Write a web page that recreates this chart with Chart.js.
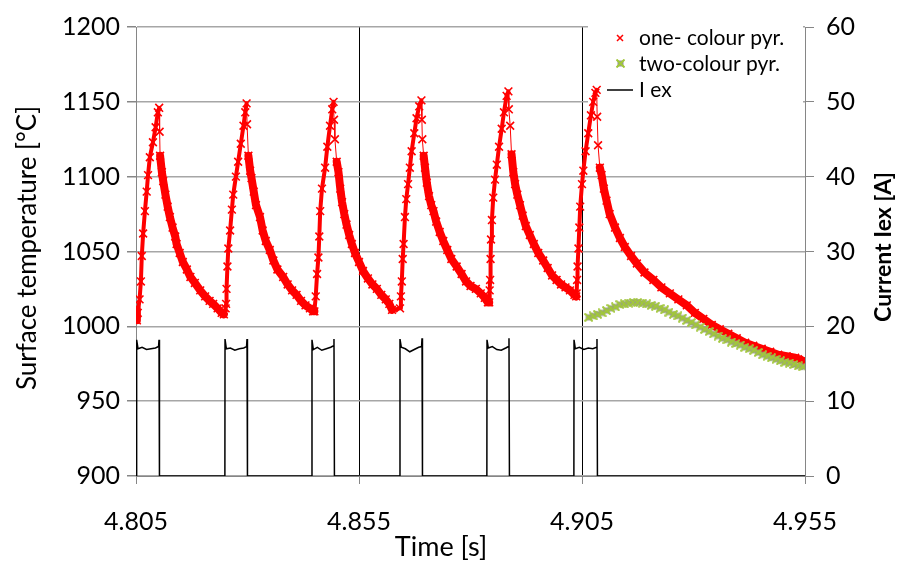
<!DOCTYPE html>
<html>
<head>
<meta charset="utf-8">
<script src="https://cdn.jsdelivr.net/npm/chart.js@4.4.0/dist/chart.umd.min.js"></script>
<style>
  body { margin: 0; background: #fff; }
  #chart { display: block; }
</style>
</head>
<body>
<canvas id="chart" width="903" height="567"></canvas>
<script>
const timeTicks = [4.805, 4.855, 4.905, 4.955];
const tempTicks = [900, 950, 1000, 1050, 1100, 1150, 1200];
const currentTicks = [0, 10, 20, 30, 40, 50, 60];

// one-colour pyrometer
const oneColourTime = [
    4.8050, 4.8052, 4.8054, 4.8058, 4.8061, 4.8063, 4.8066, 4.8070, 4.8074, 4.8077, 4.8081, 4.8088, 4.8094, 4.8099, 4.8102, 4.8103,
    4.8104, 4.8108, 4.8111, 4.8116, 4.8121, 4.8126, 4.8132, 4.8138, 4.8141, 4.8148, 4.8155, 4.8164, 4.8172, 4.8182, 4.8194, 4.8205, 4.8215, 4.8223, 4.8233, 4.8242, 4.8247,
    4.8251, 4.8252, 4.8253, 4.8255, 4.8257, 4.8261, 4.8265, 4.8268, 4.8274, 4.8279, 4.8285, 4.8291, 4.8295, 4.8298, 4.8299,
    4.8302, 4.8306, 4.8309, 4.8314, 4.8319, 4.8328, 4.8334, 4.8341, 4.8350, 4.8358, 4.8367, 4.8380, 4.8390, 4.8400, 4.8410, 4.8420, 4.8430, 4.8440, 4.8447,
    4.8450, 4.8453, 4.8456, 4.8459, 4.8461, 4.8463, 4.8467, 4.8474, 4.8479, 4.8485, 4.8490, 4.8493, 4.8494,
    4.8496, 4.8500, 4.8504, 4.8508, 4.8512, 4.8517, 4.8522, 4.8528, 4.8534, 4.8541, 4.8550, 4.8559, 4.8570, 4.8580, 4.8590, 4.8600, 4.8610, 4.8618, 4.8624,
    4.8642, 4.8644, 4.8646, 4.8648, 4.8650, 4.8653, 4.8656, 4.8660, 4.8664, 4.8668, 4.8674, 4.8679, 4.8685, 4.8690, 4.8691,
    4.8692, 4.8695, 4.8698, 4.8702, 4.8707, 4.8712, 4.8717, 4.8723, 4.8731, 4.8739, 4.8748, 4.8757, 4.8769, 4.8780, 4.8790, 4.8800, 4.8812, 4.8823, 4.8832, 4.8839,
    4.8842, 4.8843, 4.8844, 4.8845, 4.8846, 4.8848, 4.8851, 4.8855, 4.8859, 4.8864, 4.8870, 4.8875, 4.8881, 4.8885, 4.8886,
    4.8889, 4.8892, 4.8896, 4.8900, 4.8905, 4.8911, 4.8917, 4.8924, 4.8933, 4.8942, 4.8952, 4.8963, 4.8973, 4.8983, 4.8993, 4.9003, 4.9013, 4.9023, 4.9033, 4.9037,
    4.9038, 4.9039, 4.9040, 4.9042, 4.9044, 4.9046, 4.9050, 4.9053, 4.9058, 4.9064, 4.9070, 4.9075, 4.9080, 4.9083, 4.9084,
    4.9086, 4.9090, 4.9094, 4.9099, 4.9105, 4.9112, 4.9124, 4.9135, 4.9146, 4.9160, 4.9173, 4.9190, 4.9210, 4.9228, 4.9247, 4.9266,
    4.9285, 4.9303, 4.9322, 4.9341, 4.9359, 4.9378, 4.9397, 4.9416, 4.9434, 4.9453, 4.9472, 4.9490, 4.9509, 4.9528, 4.9545, 4.9549
];
const oneColourTemp = [
    1011, 1004, 1009, 1018, 1030, 1047, 1062, 1077, 1090, 1101, 1113, 1123, 1133, 1143, 1146, 1130,
    1114, 1103, 1097, 1088, 1080, 1073, 1066, 1060, 1055, 1049, 1043, 1038, 1033, 1029, 1024, 1020, 1017, 1015, 1012, 1009, 1008,
    1012, 1015, 1025, 1040, 1052, 1064, 1078, 1088, 1100, 1110, 1122, 1134, 1143, 1149, 1135,
    1114, 1104, 1099, 1090, 1081, 1073, 1064, 1057, 1051, 1044, 1038, 1033, 1028, 1024, 1021, 1017, 1014, 1012, 1010,
    1010, 1020, 1035, 1046, 1060, 1077, 1092, 1106, 1120, 1134, 1145, 1150, 1138,
    1125, 1110, 1103, 1092, 1083, 1075, 1068, 1061, 1055, 1049, 1043, 1037, 1032, 1028, 1025, 1021, 1018, 1015, 1011,
    1012, 1020, 1030, 1045, 1055, 1073, 1085, 1095, 1106, 1117, 1129, 1139, 1147, 1151, 1138,
    1125, 1114, 1106, 1096, 1087, 1081, 1077, 1070, 1063, 1057, 1051, 1045, 1040, 1035, 1030, 1027, 1025, 1022, 1019, 1016,
    1016, 1024, 1031, 1045, 1058, 1071, 1086, 1098, 1108, 1120, 1132, 1143, 1154, 1157, 1145,
    1134, 1115, 1103, 1095, 1088, 1081, 1074, 1067, 1061, 1055, 1049, 1044, 1039, 1034, 1031, 1028, 1026, 1024, 1021, 1020,
    1022, 1031, 1040, 1052, 1066, 1080, 1095, 1104, 1117, 1129, 1141, 1150, 1156, 1158, 1140,
    1121, 1106, 1101, 1092, 1084, 1075, 1066, 1059, 1053, 1047, 1042, 1036, 1031, 1026, 1022, 1018,
    1014, 1009, 1005, 1001, 998, 995, 992, 989, 987, 985, 983, 981, 980, 979, 977, 978
];

// two-colour pyrometer, only valid after the last pulse
const twoColourTime = [
    4.9065, 4.9075, 4.9085, 4.9095, 4.9105, 4.9115, 4.9125, 4.9135, 4.9145, 4.9155, 4.9165, 4.9175, 4.9185, 4.9195, 4.9205, 4.9215, 4.9225,
    4.9235, 4.9245, 4.9255, 4.9265, 4.9275, 4.9285, 4.9295, 4.9305, 4.9315, 4.9325, 4.9335, 4.9345, 4.9355, 4.9365, 4.9375, 4.9385,
    4.9395, 4.9405, 4.9415, 4.9425, 4.9435, 4.9445, 4.9455, 4.9465, 4.9475, 4.9485, 4.9495, 4.9505, 4.9515, 4.9525, 4.9535, 4.9545
];
const twoColourTemp = [
    1006, 1007, 1008, 1009, 1010.5, 1012, 1013, 1014.5, 1015, 1015.5, 1016, 1016, 1015.5, 1015, 1014, 1013.5, 1012,
    1011, 1009.5, 1008, 1007, 1005.5, 1004, 1002.5, 1001, 999.5, 998, 996.5, 995, 993.5, 992, 991, 989.5,
    988.5, 987.5, 986, 985, 984, 982.5, 981, 980, 979, 978, 977, 976, 975.5, 974.5, 973.5, 973
];

// excitation current I ex [A]
const currentTime = [
    4.80500,
    4.80513, 4.80516, 4.80546, 4.80636, 4.80736, 4.80836, 4.80936, 4.81006, 4.81016, 4.81026,
    4.82493, 4.82496, 4.82526, 4.82616, 4.82716, 4.82816, 4.82916, 4.82979, 4.82989, 4.82999,
    4.84443, 4.84446, 4.84476, 4.84566, 4.84666, 4.84766, 4.84866, 4.84929, 4.84939, 4.84949,
    4.86416, 4.86419, 4.86449, 4.86539, 4.86639, 4.86739, 4.86839, 4.86903, 4.86913, 4.86923,
    4.88367, 4.88370, 4.88400, 4.88490, 4.88590, 4.88690, 4.88790, 4.88853, 4.88863, 4.88873,
    4.90318, 4.90321, 4.90351, 4.90441, 4.90541, 4.90641, 4.90741, 4.90826, 4.90836, 4.90846,
    4.95500
];
const currentValue = [
    0,
    0, 18.2, 17.0, 17.2, 16.9, 17.0, 17.1, 17.3, 18.2, 0,
    0, 18.3, 17.0, 17.1, 16.8, 17.0, 17.1, 17.3, 18.3, 0,
    0, 18.2, 16.9, 17.2, 16.8, 17.0, 17.2, 17.4, 18.3, 0,
    0, 18.3, 17.2, 17.0, 16.6, 16.9, 17.2, 17.3, 18.4, 0,
    0, 18.2, 17.1, 17.3, 16.9, 16.8, 17.1, 17.3, 18.4, 0,
    0, 18.2, 17.0, 17.2, 16.9, 17.1, 17.0, 17.2, 18.3, 0,
    0
];

const FONT = 'Lato';
const axisGrey = '#868686';
const gridGrey = '#a6a6a6';
const red = '#ff0000';
const green = '#a2c83a';

// grey square with a green cross, like the Excel marker
const twoColourMarker = document.createElement('canvas');
twoColourMarker.width = 9;
twoColourMarker.height = 9;
(function () {
    const c = twoColourMarker.getContext('2d');
    c.fillStyle = '#959595';
    c.fillRect(1.5, 1.5, 6, 6);
    c.strokeStyle = green;
    c.lineWidth = 2;
    c.beginPath();
    c.moveTo(0.5, 0.5); c.lineTo(8.5, 8.5);
    c.moveTo(8.5, 0.5); c.lineTo(0.5, 8.5);
    c.stroke();
})();

const toPoints = (xs, ys) => xs.map((x, i) => ({x: x, y: ys[i]}));

// legend box and axis titles drawn in Excel's places
const overlay = {
    id: 'overlay',
    beforeDatasetsDraw(chart) {
        const ctx = chart.ctx;
        ctx.save();
        ctx.fillStyle = '#fff';
        ctx.fillRect(588, 21, 215, 83);
        ctx.restore();
    },
    afterDraw(chart) {
        const ctx = chart.ctx;
        ctx.save();
        ctx.fillStyle = '#000';
        ctx.textBaseline = 'middle';
        ctx.textAlign = 'left';
        ctx.font = '21px ' + FONT;

        ctx.strokeStyle = red;
        ctx.lineWidth = 1.5;
        ctx.beginPath();
        ctx.moveTo(617, 35); ctx.lineTo(623, 41);
        ctx.moveTo(623, 35); ctx.lineTo(617, 41);
        ctx.stroke();
        ctx.fillText('one- colour pyr.', 639, 38);

        ctx.drawImage(twoColourMarker, 616, 59);
        ctx.fillText('two-colour pyr.', 639, 64);

        ctx.strokeStyle = '#000';
        ctx.lineWidth = 1.5;
        ctx.beginPath();
        ctx.moveTo(607, 90); ctx.lineTo(633, 90);
        ctx.stroke();
        ctx.fillText('I ex', 639, 90);

        ctx.textAlign = 'center';
        ctx.font = '27px ' + FONT;
        ctx.fillText('Time [s]', 441, 547);

        ctx.save();
        ctx.translate(28, 248);
        ctx.rotate(-Math.PI / 2);
        ctx.font = '26px ' + FONT;
        ctx.fillText('Surface temperature [°C]', 0, 0);
        ctx.restore();

        ctx.save();
        ctx.translate(884, 247);
        ctx.rotate(-Math.PI / 2);
        ctx.font = 'bold 23px ' + FONT;
        ctx.fillText('Current Iex [A]', 0, 0);
        ctx.restore();
        ctx.restore();
    }
};

const ctx = document.getElementById('chart').getContext('2d');

new Chart(ctx, {
    type: 'scatter',
    data: {
        datasets: [
            {
                label: 'one- colour pyr.',
                data: toPoints(oneColourTime, oneColourTemp),
                yAxisID: 'y',
                order: 3,
                showLine: true,
                borderColor: red,
                borderWidth: 7,
                borderJoinStyle: 'round',
                borderCapStyle: 'round',
                segment: {
                    borderWidth: c => {
                        const dx = Math.abs(c.p1.x - c.p0.x);
                        const dy = c.p1.y - c.p0.y;
                        if (dy < 0) return 4;
                        return dy > 12 * dx ? 1 : 8;
                    }
                },
                pointStyle: 'crossRot',
                pointRadius: 5.5,
                pointBorderWidth: 1.6,
                pointBorderColor: red,
                pointBackgroundColor: red
            },
            {
                label: 'two-colour pyr.',
                data: toPoints(twoColourTime, twoColourTemp),
                yAxisID: 'y',
                order: 2,
                pointStyle: twoColourMarker,
                pointRadius: 4.5
            },
            {
                label: 'I ex',
                data: toPoints(currentTime, currentValue),
                yAxisID: 'y1',
                order: 1,
                showLine: true,
                borderColor: '#000',
                borderWidth: 1.5,
                pointRadius: 0,
                tension: 0
            }
        ]
    },
    plugins: [overlay],
    options: {
        responsive: false,
        animation: false,
        devicePixelRatio: 1,
        layout: {padding: {top: 20, left: 0, right: 0, bottom: 0}},
        plugins: {
            legend: {display: false},
            tooltip: {enabled: false}
        },
        scales: {
            x: {
                type: 'linear',
                min: 4.805,
                max: 4.955,
                afterBuildTicks: s => { s.ticks = timeTicks.map(v => ({value: v})); },
                afterFit: s => { s.height = 91; },
                ticks: {
                    callback: v => v.toFixed(3),
                    color: '#000',
                    font: {family: FONT, size: 25},
                    padding: 23,
                    maxRotation: 0
                },
                grid: {
                    color: c => (c.tick && c.tick.value > 4.81 && c.tick.value < 4.95) ? '#000' : 'rgba(0,0,0,0)',
                    tickColor: axisGrey,
                    tickLength: 8,
                    lineWidth: 1
                },
                border: {color: axisGrey, width: 1}
            },
            y: {
                position: 'left',
                min: 900,
                max: 1200,
                afterBuildTicks: s => { s.ticks = tempTicks.map(v => ({value: v})); },
                afterFit: s => { s.width = 136; },
                ticks: {
                    callback: v => String(v),
                    color: '#000',
                    font: {family: FONT, size: 25},
                    padding: 7
                },
                grid: {
                    color: gridGrey,
                    tickColor: axisGrey,
                    tickLength: 9,
                    lineWidth: 1.5
                },
                border: {color: axisGrey, width: 1}
            },
            y1: {
                position: 'right',
                min: 0,
                max: 60,
                afterBuildTicks: s => { s.ticks = currentTicks.map(v => ({value: v})); },
                afterFit: s => { s.width = 98; },
                ticks: {
                    callback: v => String(v),
                    color: '#000',
                    font: {family: FONT, size: 25},
                    padding: 12
                },
                grid: {
                    drawOnChartArea: false,
                    color: axisGrey,
                    tickLength: 9
                },
                border: {color: axisGrey, width: 1}
            }
        }
    }
});
</script>
</body>
</html>
